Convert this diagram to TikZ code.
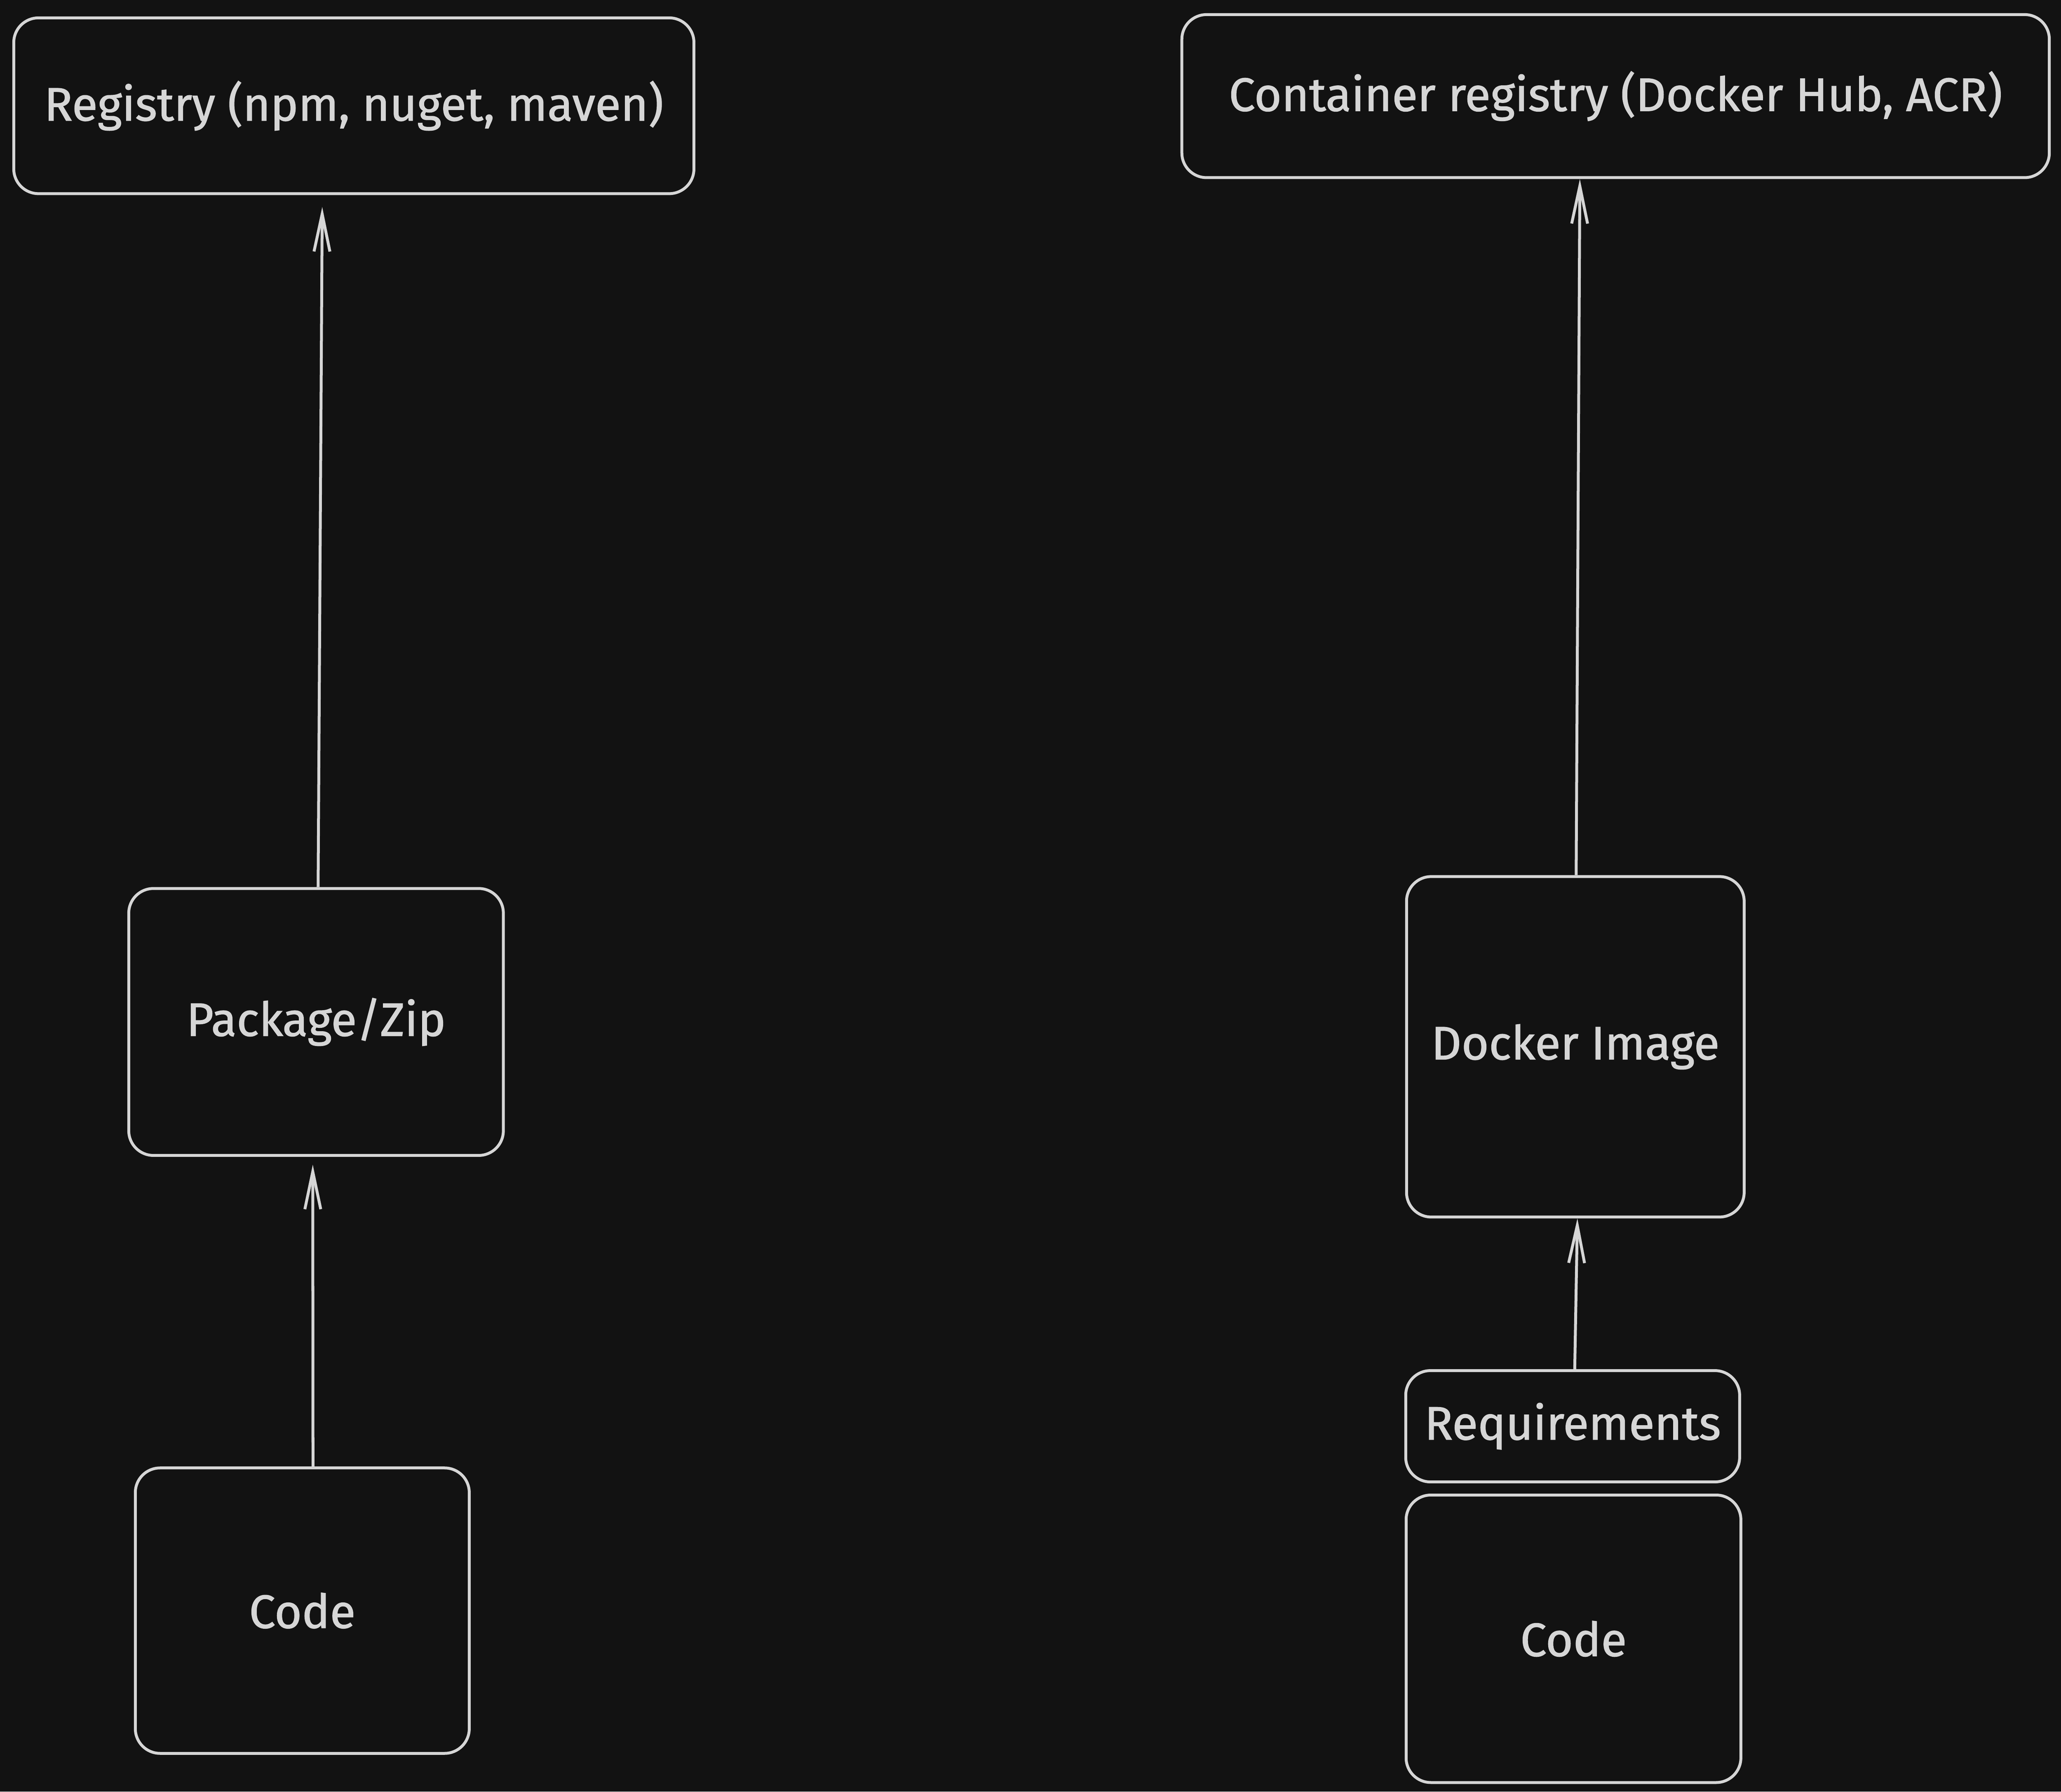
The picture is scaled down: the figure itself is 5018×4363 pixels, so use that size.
\documentclass[tikz,border=0pt]{standalone}
\usepackage{fontspec}
\setmainfont[FakeBold=1.2]{Fira Sans}
\usetikzlibrary{arrows.meta}
\definecolor{bg}{HTML}{121212}
\definecolor{ink}{HTML}{D6D6D6}
\begin{document}
\begin{tikzpicture}[x=0.01cm,y=-0.01cm,
  box/.style={draw=ink,line width=2pt,rounded corners=0.6cm,inner sep=0pt,anchor=north west},
  lbl/.style={text=ink,font=\fontsize{32.5}{38}\selectfont},
  arr/.style={draw=ink,line width=2pt,-{Straight Barb[length=26pt,width=11pt,line width=2pt]}}]
\fill[bg] (0,0) rectangle (5018,4363);
\useasboundingbox (0,0) rectangle (5018,4363);
% boxes
\node[box,minimum width=1656*0.01cm,minimum height=428*0.01cm] (reg) at (30,40) {};
\node[lbl] at (reg.center) {Registry (npm, nuget, maven)};
\node[box,minimum width=2112*0.01cm,minimum height=397*0.01cm] (creg) at (2874,32) {};
\node[lbl] at (creg.center) {Container registry (Docker Hub, ACR)};
\node[box,minimum width=912*0.01cm,minimum height=650*0.01cm] (pkg) at (310,2160) {};
\node[lbl] at (pkg.center) {Package/Zip};
\node[box,minimum width=822*0.01cm,minimum height=829*0.01cm] (img) at (3421,2131) {};
\node[lbl] at (img.center) {Docker Image};
\node[box,minimum width=813*0.01cm,minimum height=271*0.01cm] (req) at (3419,3334) {};
\node[lbl] at (req.center) {Requirements};
\node[box,minimum width=813*0.01cm,minimum height=695*0.01cm] (codeL) at (326,3571) {};
\node[lbl] at (codeL.center) {Code};
\node[box,minimum width=815*0.01cm,minimum height=700*0.01cm] (codeR) at (3420,3637) {};
\node[lbl] at (codeR.center) {Code};
% arrows
\draw[arr] ([xshift=26*0.01cm]codeL.north) -- ([xshift=-8*0.01cm,yshift=-19*0.01cm]pkg.south);
\draw[arr] ([xshift=5*0.01cm]pkg.north) -- ([xshift=-77*0.01cm,yshift=-29*0.01cm]reg.south);
\draw[arr] ([xshift=5*0.01cm]req.north) -- ([xshift=5*0.01cm]img.south);
\draw[arr] ([xshift=2*0.01cm]img.north) -- ([xshift=-87*0.01cm]creg.south);
\end{tikzpicture}
\end{document}
